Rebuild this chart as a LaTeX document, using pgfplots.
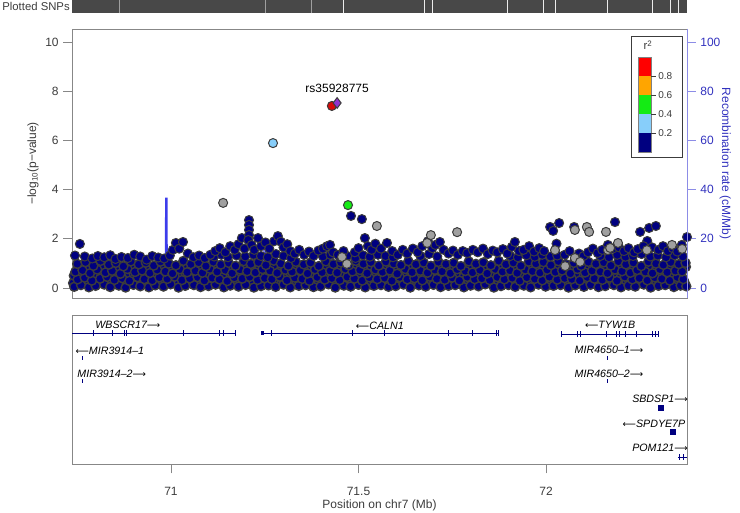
\documentclass[border=0pt]{standalone}
\usepackage{fontspec}
\setmainfont{Liberation Sans}
\newfontfamily\arrowfont{DejaVu Sans}
\usepackage{pgfplots}
\pgfplotsset{compat=1.18}

\definecolor{navyp}{RGB}{0,0,128}
\definecolor{edge}{RGB}{60,60,60}
\definecolor{grayp}{RGB}{160,160,160}
\definecolor{ltblue}{RGB}{135,206,250}
\definecolor{greenp}{RGB}{20,235,20}
\definecolor{orangep}{RGB}{255,165,0}
\definecolor{redp}{RGB}{215,10,10}
\definecolor{purp}{RGB}{145,50,205}
\definecolor{recline}{RGB}{60,60,235}
\definecolor{recaxis}{RGB}{140,140,230}
\definecolor{rectext}{RGB}{50,50,190}
\definecolor{axgray}{RGB}{135,135,135}
\definecolor{txtgray}{RGB}{60,60,60}
\definecolor{snpbar}{RGB}{72,72,72}

\newcommand{\mainfont}{\fontsize{9}{10.5}\selectfont}
\newcommand{\genefont}{\fontsize{8}{9}\selectfont\itshape}
\newcommand{\ra}{{\arrowfont\upshape\fontsize{7}{8}\selectfont ⟶}}
\newcommand{\la}{{\arrowfont\upshape\fontsize{7}{8}\selectfont ⟵}}
\pgfplotsset{snp/.style 2 args={only marks, mark=*, mark size=3.4pt,
    mark options={fill=#1, draw=edge, line width=#2}}}

\begin{document}
\begin{tikzpicture}
\path[use as bounding box] (0pt,0pt) rectangle (555pt,-384.75pt);

% --- rug of plotted SNPs
\node[anchor=east, font=\fontsize{8.5}{10}\selectfont, text=txtgray, inner sep=0pt] at (52.5pt,-5pt) {Plotted SNPs};
\begin{axis}[
    at={(54pt,-10pt)}, anchor=south west,
    scale only axis, width=461.25pt, height=10pt,
    xmin=70.736, xmax=72.376, ymin=0, ymax=1,
    axis lines=none, ticks=none,
]
\addplot[fill=snpbar, draw=none] coordinates {(70.736,1) (72.376,1)} \closedcycle;
\addplot[ycomb, draw=gray!75, line width=0.4pt, mark=none] coordinates {
    (70.863,1) (71.252,1) (71.373,1)
};
\addplot[ycomb, draw=white!85!gray, line width=0.6pt, mark=none] coordinates {
    (71.461,1) (71.677,1) (71.696,1) (71.896,1) (71.992,1) (72.024,1)
    (72.165,1) (72.285,1) (72.331,1) (72.352,1)
};
\end{axis}

% --- recombination rate (drawn first, under the points)
\begin{axis}[
    at={(54pt,-223.5pt)}, anchor=south west,
    scale only axis, width=461.25pt, height=201.75pt,
    xmin=70.736, xmax=72.376, ymin=-4.065, ymax=105.28,
    axis x line=none, axis y line*=right,
    y axis line style={draw=recaxis, line width=0.6pt},
    ytick={0,20,40,60,80,100}, yticklabels={0,20,40,60,80,100},
    tick align=outside, major tick length=6.5pt,
    ytick style={draw=recaxis, line width=0.6pt},
    yticklabel style={text=rectext, font=\mainfont},
    ylabel={Recombination rate (cM/Mb)},
    every axis y label/.style={at={(axis description cs:1.062,0.5)}, anchor=center,
        rotate=-90, font=\mainfont, text=rectext},
]
\addplot[recline, line width=1pt, mark=none] coordinates {
    (70.736,16) (70.739,9) (70.743,3) (70.755,1.6) (70.790,1.1) (70.830,1.4)
    (70.870,0.9) (70.910,1.2) (70.950,0.8) (70.980,1.3) (70.985,2) (70.986,36.5)
    (70.989,36.5) (70.990,2.5) (70.995,1.2) (71.040,1.0) (71.090,1.3) (71.140,0.9)
    (71.190,1.2) (71.245,1.8) (71.249,18.7) (71.252,18.7) (71.255,2) (71.300,1.1)
    (71.350,1.4) (71.356,8.5) (71.359,8.5) (71.362,1.3) (71.400,1.0) (71.426,1.2)
    (71.429,14) (71.432,14) (71.435,1.1) (71.480,0.9) (71.540,1.3) (71.600,1.0)
    (71.660,1.2) (71.720,0.9) (71.780,1.3) (71.840,1.0) (71.900,1.2) (71.960,0.9)
    (72.020,1.4) (72.080,1.0) (72.140,1.2) (72.200,0.9) (72.260,1.3) (72.320,1.0)
    (72.376,1.2)
};
\end{axis}

% --- association p-values
\begin{axis}[
    at={(54pt,-223.5pt)}, anchor=south west,
    scale only axis, width=461.25pt, height=201.75pt,
    xmin=70.736, xmax=72.376, ymin=-0.4065, ymax=10.528,
    axis line style={draw=axgray, line width=0.6pt},
    xtick=\empty,
    ytick={0,2,4,6,8,10}, yticklabels={0,2,4,6,8,10}, ytick pos=left,
    tick align=outside, major tick length=6.5pt,
    ytick style={draw=axgray, line width=0.6pt},
    yticklabel style={text=txtgray, font=\mainfont},
    ylabel={−log\textsubscript{10}(p−value)},
    every axis y label/.style={at={(axis description cs:-0.0634,0.5)}, anchor=center,
        rotate=90, font=\mainfont, text=txtgray},
]
% r2 < 0.2 : the dense body near zero (heavily overplotted)
\addplot[snp={navyp}{1.05pt}] coordinates {
    (70.739,0.20) (70.757,0.25) (70.778,0.18) (70.796,0.23) (70.817,0.27) (70.836,0.19)
    (70.856,0.24) (70.875,0.21) (70.895,0.26) (70.914,0.18) (70.935,0.22) (70.954,0.25)
    (70.975,0.19) (70.994,0.24) (71.015,0.21) (71.034,0.27) (71.055,0.18) (71.074,0.23)
    (71.095,0.26) (71.114,0.20) (71.135,0.24) (71.154,0.19) (71.175,0.25) (71.194,0.22)
    (71.215,0.18) (71.234,0.26) (71.255,0.21) (71.274,0.24) (71.295,0.19) (71.314,0.25)
    (71.335,0.22) (71.354,0.18) (71.375,0.26) (71.394,0.21) (71.415,0.24) (71.434,0.19)
    (71.455,0.25) (71.474,0.22) (71.495,0.18) (71.514,0.26) (71.535,0.21) (71.554,0.24)
    (71.575,0.19) (71.594,0.25) (71.615,0.22) (71.634,0.18) (71.655,0.26) (71.674,0.21)
    (71.695,0.24) (71.714,0.19) (71.735,0.25) (71.754,0.22) (71.775,0.18) (71.794,0.26)
    (71.815,0.21) (71.834,0.24) (71.855,0.19) (71.874,0.25) (71.895,0.22) (71.914,0.18)
    (71.935,0.26) (71.954,0.21) (71.975,0.24) (71.994,0.19) (72.015,0.25) (72.034,0.22)
    (72.055,0.18) (72.074,0.26) (72.095,0.21) (72.114,0.24) (72.135,0.19) (72.154,0.25)
    (72.175,0.22) (72.194,0.18) (72.215,0.26) (72.234,0.21) (72.255,0.24) (72.274,0.19)
    (72.295,0.25) (72.314,0.22) (72.335,0.18) (72.354,0.26) (72.370,0.21)
    (70.741,0.50) (70.760,0.55) (70.781,0.48) (70.800,0.53) (70.821,0.57) (70.840,0.49)
    (70.861,0.54) (70.880,0.51) (70.901,0.56) (70.920,0.48) (70.941,0.52) (70.960,0.55)
    (70.981,0.49) (71.000,0.54) (71.021,0.51) (71.040,0.57) (71.061,0.48) (71.080,0.53)
    (71.101,0.56) (71.120,0.50) (71.141,0.54) (71.160,0.49) (71.181,0.55) (71.200,0.52)
    (71.221,0.48) (71.240,0.56) (71.261,0.51) (71.280,0.54) (71.301,0.49) (71.320,0.55)
    (71.341,0.52) (71.360,0.48) (71.381,0.56) (71.400,0.51) (71.421,0.54) (71.440,0.49)
    (71.461,0.55) (71.480,0.52) (71.501,0.48) (71.520,0.56) (71.541,0.51) (71.560,0.54)
    (71.581,0.49) (71.600,0.55) (71.621,0.52) (71.640,0.48) (71.661,0.56) (71.680,0.51)
    (71.701,0.54) (71.720,0.49) (71.741,0.55) (71.760,0.52) (71.781,0.48) (71.800,0.56)
    (71.821,0.51) (71.840,0.54) (71.861,0.49) (71.880,0.55) (71.901,0.52) (71.920,0.48)
    (71.941,0.56) (71.960,0.51) (71.981,0.54) (72.000,0.49) (72.021,0.55) (72.040,0.52)
    (72.061,0.48) (72.080,0.56) (72.101,0.51) (72.120,0.54) (72.141,0.49) (72.160,0.55)
    (72.181,0.52) (72.200,0.48) (72.221,0.56) (72.240,0.51) (72.261,0.54) (72.280,0.49)
    (72.301,0.55) (72.320,0.52) (72.341,0.48) (72.360,0.56)
    (70.755,0.84) (70.775,0.88) (70.795,0.81) (70.815,0.86) (70.835,0.90) (70.855,0.82)
    (70.875,0.87) (70.895,0.80) (70.915,0.85) (70.935,0.89) (70.955,0.83) (70.975,0.86)
    (70.995,0.81) (71.015,0.88) (71.035,0.84) (71.055,0.80) (71.075,0.87) (71.095,0.82)
    (71.115,0.89) (71.135,0.85) (71.155,0.81) (71.175,0.86) (71.195,0.83) (71.215,0.88)
    (71.235,0.80) (71.255,0.85) (71.275,0.89) (71.295,0.82) (71.315,0.87) (71.335,0.84)
    (71.355,0.80) (71.375,0.86) (71.395,0.83) (71.415,0.88) (71.435,0.81) (71.455,0.85)
    (71.475,0.89) (71.495,0.82) (71.515,0.87) (71.535,0.84) (71.555,0.80) (71.575,0.86)
    (71.595,0.83) (71.615,0.88) (71.635,0.81) (71.655,0.85) (71.675,0.89) (71.695,0.82)
    (71.715,0.87) (71.735,0.84) (71.755,0.80) (71.775,0.86) (71.795,0.83) (71.815,0.88)
    (71.835,0.81) (71.855,0.85) (71.875,0.89) (71.895,0.82) (71.915,0.87) (71.935,0.84)
    (71.955,0.80) (71.975,0.86) (71.995,0.83) (72.015,0.88) (72.035,0.81) (72.055,0.85)
    (72.075,0.89) (72.095,0.82) (72.115,0.87) (72.135,0.84) (72.155,0.80) (72.175,0.86)
    (72.195,0.83) (72.215,0.88) (72.235,0.81) (72.255,0.85) (72.275,0.89) (72.295,0.82)
    (72.315,0.87) (72.335,0.84) (72.355,0.80) (72.373,0.86)
    (70.742,0.05) (70.760,0.12) (70.781,0.03) (70.799,0.09) (70.822,0.14) (70.838,0.04)
    (70.861,0.10) (70.879,0.02) (70.900,0.13) (70.918,0.07) (70.941,0.03) (70.958,0.11)
    (70.980,0.06) (70.999,0.15) (71.020,0.02) (71.038,0.09) (71.061,0.12) (71.079,0.04)
    (71.100,0.08) (71.119,0.14) (71.141,0.03) (71.158,0.10) (71.180,0.06) (71.199,0.13)
    (71.221,0.02) (71.240,0.08) (71.260,0.11) (71.279,0.05) (71.300,0.14) (71.318,0.03)
    (71.341,0.09) (71.359,0.12) (71.380,0.04) (71.399,0.07) (71.420,0.15) (71.438,0.02)
    (71.461,0.10) (71.479,0.06) (71.500,0.13) (71.518,0.03) (71.541,0.09) (71.560,0.12)
    (71.580,0.05) (71.599,0.08) (71.620,0.14) (71.638,0.02) (71.661,0.11) (71.679,0.06)
    (71.700,0.13) (71.719,0.04) (71.740,0.09) (71.758,0.12) (71.781,0.03) (71.799,0.10)
    (71.820,0.07) (71.838,0.15) (71.861,0.02) (71.880,0.08) (71.900,0.12) (71.918,0.05)
    (71.941,0.10) (71.959,0.03) (71.980,0.14) (71.999,0.06) (72.020,0.09) (72.039,0.12)
    (72.060,0.02) (72.078,0.11) (72.101,0.05) (72.119,0.13) (72.140,0.04) (72.158,0.08)
    (72.181,0.12) (72.200,0.03) (72.220,0.10) (72.238,0.06) (72.261,0.14) (72.279,0.02)
    (72.300,0.09) (72.318,0.12) (72.341,0.04) (72.359,0.10) (72.374,0.07)
    (70.751,0.35) (70.770,0.42) (70.789,0.30) (70.811,0.38) (70.830,0.45) (70.849,0.33)
    (70.870,0.40) (70.889,0.29) (70.911,0.44) (70.929,0.36) (70.950,0.31) (70.969,0.43)
    (70.990,0.37) (71.010,0.46) (71.029,0.32) (71.050,0.39) (71.071,0.44) (71.089,0.30)
    (71.110,0.41) (71.129,0.35) (71.150,0.28) (71.169,0.43) (71.190,0.38) (71.210,0.45)
    (71.231,0.33) (71.250,0.40) (71.269,0.36) (71.290,0.46) (71.309,0.31) (71.330,0.42)
    (71.350,0.37) (71.369,0.29) (71.390,0.44) (71.410,0.34) (71.429,0.40) (71.450,0.32)
    (71.470,0.45) (71.489,0.38) (71.510,0.30) (71.529,0.43) (71.550,0.36) (71.570,0.41)
    (71.589,0.29) (71.610,0.44) (71.630,0.35) (71.649,0.40) (71.670,0.31) (71.690,0.46)
    (71.709,0.37) (71.730,0.33) (71.750,0.42) (71.769,0.30) (71.790,0.45) (71.810,0.36)
    (71.829,0.39) (71.850,0.32) (71.870,0.44) (71.889,0.35) (71.910,0.41) (71.930,0.29)
    (71.949,0.43) (71.970,0.37) (71.990,0.31) (72.009,0.45) (72.030,0.34) (72.050,0.40)
    (72.069,0.36) (72.090,0.30) (72.110,0.44) (72.129,0.38) (72.150,0.33) (72.170,0.42)
    (72.189,0.29) (72.210,0.46) (72.230,0.35) (72.249,0.40) (72.270,0.31) (72.290,0.43)
    (72.309,0.37) (72.330,0.30) (72.350,0.44) (72.366,0.36)
    (70.745,0.66) (70.764,0.72) (70.784,0.60) (70.803,0.75) (70.825,0.63) (70.843,0.70)
    (70.865,0.58) (70.884,0.77) (70.904,0.65) (70.923,0.71) (70.944,0.61) (70.963,0.74)
    (70.985,0.67) (71.004,0.59) (71.024,0.76) (71.043,0.64) (71.065,0.70) (71.084,0.62)
    (71.104,0.78) (71.123,0.66) (71.145,0.73) (71.163,0.60) (71.184,0.75) (71.203,0.68)
    (71.225,0.63) (71.244,0.77) (71.264,0.70) (71.283,0.61) (71.305,0.74) (71.323,0.66)
    (71.345,0.72) (71.364,0.59) (71.384,0.76) (71.403,0.64) (71.425,0.70) (71.443,0.62)
    (71.465,0.78) (71.484,0.67) (71.504,0.73) (71.523,0.60) (71.545,0.75) (71.564,0.65)
    (71.584,0.71) (71.603,0.58) (71.625,0.77) (71.643,0.64) (71.665,0.70) (71.684,0.62)
    (71.704,0.74) (71.723,0.67) (71.745,0.60) (71.763,0.76) (71.785,0.69) (71.804,0.63)
    (71.824,0.73) (71.843,0.59) (71.865,0.77) (71.884,0.66) (71.904,0.71) (71.923,0.61)
    (71.945,0.75) (71.964,0.68) (71.984,0.62) (72.003,0.74) (72.025,0.65) (72.043,0.71)
    (72.065,0.59) (72.084,0.77) (72.104,0.63) (72.123,0.70) (72.145,0.66) (72.164,0.60)
    (72.184,0.75) (72.203,0.68) (72.225,0.62) (72.243,0.73) (72.265,0.66) (72.284,0.60)
    (72.304,0.76) (72.323,0.64) (72.345,0.70) (72.363,0.67)
    (70.750,0.98) (70.772,1.05) (70.793,0.90) (70.812,1.10) (70.834,0.95) (70.853,1.02)
    (70.873,0.88) (70.893,1.08) (70.914,0.96) (70.933,1.03) (70.954,0.91) (70.972,1.07)
    (70.994,0.99) (71.013,0.92) (71.033,1.10) (71.053,0.97) (71.074,1.04) (71.093,0.89)
    (71.113,1.06) (71.133,0.95) (71.154,1.02) (71.172,0.90) (71.194,1.09) (71.213,0.98)
    (71.233,1.05) (71.253,0.93) (71.274,1.11) (71.293,0.99) (71.313,0.90) (71.333,1.06)
    (71.354,0.96) (71.372,1.03) (71.394,0.89) (71.413,1.08) (71.433,0.97) (71.453,1.04)
    (71.474,0.92) (71.493,1.10) (71.513,0.98) (71.533,1.05) (71.554,0.91) (71.573,1.07)
    (71.594,0.99) (71.613,0.93) (71.633,1.09) (71.653,0.96) (71.674,1.03) (71.693,0.90)
    (71.713,1.06) (71.733,0.97) (71.754,1.02) (71.773,0.89) (71.794,1.08) (71.813,0.98)
    (71.833,1.04) (71.853,0.92) (71.874,1.10) (71.893,0.96) (71.913,1.03) (71.933,0.90)
    (71.954,1.07) (71.973,0.99) (71.993,1.05) (72.013,0.93) (72.033,1.09) (72.053,0.97)
    (72.074,1.02) (72.094,0.90) (72.113,1.06) (72.133,0.98) (72.154,1.04) (72.173,0.91)
    (72.193,1.08) (72.213,0.96) (72.233,1.03) (72.254,0.89) (72.273,1.07) (72.293,0.99)
    (72.313,0.94) (72.333,1.05) (72.354,0.97) (72.372,1.02)
};
% r2 < 0.2 : upper envelope
\addplot[snp={navyp}{0.75pt}] coordinates {
    (71.115,1.28) (71.135,1.35) (71.152,1.25) (71.175,1.32) (71.198,1.28) (71.220,1.35)
    (71.240,1.30) (71.258,1.25) (71.280,1.38) (71.300,1.30) (71.320,1.22) (71.405,1.28)
    (71.425,1.35) (71.450,1.25) (71.470,1.30) (71.492,1.22) (71.512,1.33) (71.530,1.27)
    (71.552,1.35) (71.572,1.30) (71.592,1.25) (71.665,1.30) (71.688,1.38) (71.710,1.28)
    (71.905,1.30) (71.925,1.25) (71.948,1.33) (71.970,1.27) (71.990,1.35) (72.012,1.28)
    (72.030,1.32) (72.145,1.30) (72.168,1.25) (72.190,1.35) (72.212,1.27) (72.232,1.30)
    (72.255,1.38) (72.278,1.28) (72.298,1.32) (72.320,1.25) (72.343,1.33) (72.365,1.28)
    (70.744,1.32) (70.757,1.79) (70.770,1.28) (70.790,1.20) (70.805,1.30) (70.822,1.25)
    (70.838,1.33) (70.852,1.18) (70.868,1.26) (70.885,1.22) (70.902,1.35) (70.918,1.28)
    (70.935,1.15) (70.950,1.30) (70.966,1.24) (70.982,1.20) (70.997,1.32)
    (71.005,1.55) (71.013,1.83) (71.022,1.60) (71.032,1.87) (71.045,1.40)
    (71.060,1.25) (71.075,1.32) (71.090,1.22) (71.105,1.35)
    (71.118,1.50) (71.130,1.62) (71.145,1.45) (71.158,1.70) (71.170,1.55) (71.180,1.78)
    (71.189,2.03) (71.196,1.60)
    (71.208,2.76) (71.208,2.56) (71.208,2.36) (71.208,2.15) (71.206,1.95) (71.215,1.75)
    (71.222,1.55)
    (71.232,2.03) (71.240,1.70) (71.252,1.85) (71.262,1.60) (71.275,1.90) (71.285,2.11)
    (71.293,1.88) (71.300,1.65) (71.310,1.78) (71.318,1.50)
    (71.330,1.40) (71.342,1.55) (71.355,1.35) (71.368,1.48) (71.380,1.30) (71.393,1.52)
    (71.405,1.60) (71.416,1.70) (71.424,1.75) (71.432,1.45) (71.445,1.35)
    (71.480,2.93) (71.509,2.80) (71.517,2.03) (71.460,1.50) (71.490,1.45) (71.500,1.62)
    (71.525,1.70) (71.535,1.55) (71.545,1.80)
    (71.560,1.60) (71.576,1.83) (71.590,1.50)
    (71.605,1.35) (71.618,1.55) (71.630,1.40) (71.645,1.60) (71.658,1.45) (71.670,1.70)
    (71.685,1.90) (71.697,1.62) (71.705,1.75) (71.717,1.87) (71.727,1.55)
    (71.740,1.40) (71.752,1.52) (71.765,1.35) (71.778,1.50) (71.790,1.42)
    (71.805,1.55) (71.818,1.45) (71.832,1.60) (71.845,1.38) (71.858,1.52) (71.870,1.45)
    (71.885,1.58) (71.897,1.40) (71.909,1.67) (71.917,1.87) (71.928,1.50)
    (71.940,1.55) (71.955,1.70) (71.968,1.48) (71.982,1.62) (71.995,1.50)
    (72.011,2.48) (72.019,2.32) (72.035,2.64) (72.028,1.80)
    (72.050,1.35) (72.063,1.50) (72.075,2.48) (72.088,1.40) (72.100,1.30) (72.112,1.45)
    (72.125,1.60) (72.138,1.42)
    (72.150,1.55) (72.165,1.75) (72.178,1.60) (72.184,2.68) (72.195,1.65)
    (72.208,1.50) (72.220,1.62) (72.235,1.45) (72.245,1.58)
    (72.251,2.28) (72.275,2.44) (72.293,2.52) (72.270,1.91) (72.260,1.70) (72.283,1.65)
    (72.300,1.55) (72.312,1.70) (72.325,1.50) (72.338,1.62) (72.350,1.48) (72.362,1.75)
    (72.376,2.07)
};
% no LD information
\addplot[snp={grayp}{0.75pt}] coordinates {
    (71.139,3.46) (71.549,2.52) (71.693,2.15) (71.763,2.27) (72.077,2.36) (72.109,2.48)
    (72.115,2.28) (72.160,2.28) (72.363,1.59) (71.456,1.26) (71.469,0.98) (72.077,1.22)
    (72.091,1.06) (72.051,0.89) (72.165,1.54) (72.171,1.63) (72.192,1.83) (72.269,1.54)
    (72.336,1.75) (72.024,1.54) (71.683,1.83)
};
% 0.2 - 0.4
\addplot[snp={ltblue}{0.75pt}] coordinates {(71.272,5.89)};
% 0.4 - 0.6
\addplot[snp={greenp}{0.75pt}] coordinates {(71.472,3.37)};
% 0.8 - 1
\addplot[snp={redp}{0.75pt}] coordinates {(71.429,7.40)};
% index SNP
\addplot[only marks, mark=diamond*, mark size=4pt,
    mark options={fill=purp, draw=edge, line width=0.75pt}] coordinates {(71.443,7.52)};
\node[font=\mainfont, text=black] at (axis cs:71.443,8.1) {rs35928775};
\end{axis}
% blue right spine over the grey box
\draw[recaxis, line width=0.6pt] (515.25pt,-21.75pt) -- (515.25pt,-223.5pt);

% r2 colour key
\draw[edge, fill=white, line width=0.6pt] (473.25pt,-27pt) rectangle (511.5pt,-117.75pt);
\fill[red] (478.5pt,-42.75pt) rectangle (488.25pt,-57pt);
\fill[orangep] (478.5pt,-57pt) rectangle (488.25pt,-71.25pt);
\fill[greenp] (478.5pt,-71.25pt) rectangle (488.25pt,-85.5pt);
\fill[ltblue] (478.5pt,-85.5pt) rectangle (488.25pt,-99.75pt);
\fill[navyp] (478.5pt,-99.75pt) rectangle (488.25pt,-114pt);
\draw[gray, line width=0.4pt] (478.5pt,-42.75pt) rectangle (488.25pt,-114pt);
\foreach \yy/\lab in {-57/0.8, -71.25/0.6, -85.5/0.4, -99.75/0.2} {
    \draw[edge, line width=0.5pt] (488.25pt,\yy pt) -- (492pt,\yy pt);
    \node[anchor=west, inner sep=0pt, font=\fontsize{7.5}{8}\selectfont, text=txtgray] at (493.5pt,\yy pt) {\lab};
}
\node[font=\fontsize{8.5}{9}\selectfont, text=txtgray] at (486pt,-34pt) {r\textsuperscript{2}};

% --- genes
\begin{axis}[
    at={(54pt,-348pt)}, anchor=south west,
    scale only axis, width=461.25pt, height=111.75pt,
    xmin=70.736, xmax=72.376, ymin=-464, ymax=-315,
    axis line style={draw=axgray, line width=0.6pt},
    ytick=\empty,
    xtick={71,71.5,72}, xticklabels={71,71.5,72}, xtick pos=bottom,
    tick align=outside, major tick length=7pt,
    xtick style={draw=axgray, line width=0.6pt},
    xticklabel style={text=txtgray, font=\mainfont, yshift=-7pt},
    xlabel={Position on chr7 (Mb)},
    every axis x label/.style={at={(axis description cs:0.5,-0.28)}, anchor=center,
        font=\mainfont, text=txtgray},
    clip=false,
]
% gene bodies
\addplot[navyp, line width=0.6pt, mark=none] coordinates {(70.736,-333) (71.173,-333)};
\addplot[navyp, line width=0.6pt, mark=none] coordinates {(71.240,-333) (71.872,-333)};
\addplot[navyp, line width=0.6pt, mark=none] coordinates {(72.040,-334) (72.301,-334)};
\addplot[navyp, line width=0.6pt, mark=none] coordinates {(72.352,-457) (72.376,-457)};
\addplot[navyp, line width=3.5pt, mark=none] coordinates {(71.240,-333) (71.248,-333)};
% exons
\addplot[only marks, mark=|, mark size=1.9pt, mark options={draw=navyp, line width=0.6pt}] coordinates {
    (70.792,-333) (70.845,-333) (70.875,-333) (70.880,-333) (71.032,-333) (71.128,-333)
    (71.139,-333) (71.173,-333)
    (71.269,-333) (71.485,-333) (71.568,-333) (71.741,-333) (71.803,-333) (71.867,-333)
    (71.872,-333)
    (72.040,-334) (72.083,-334) (72.091,-334) (72.160,-334) (72.187,-334) (72.197,-334)
    (72.211,-334) (72.240,-334) (72.283,-334) (72.291,-334) (72.299,-334)
    (72.355,-457) (72.366,-457)
};
\addplot[only marks, mark=|, mark size=1.2pt, mark options={draw=navyp, line width=0.6pt}] coordinates {
    (70.765,-358) (70.765,-381) (72.163,-358) (72.163,-381)
};
\addplot[only marks, mark=square*, mark size=1.8pt, mark options={fill=navyp, draw=navyp}] coordinates {
    (72.307,-408) (72.339,-432)
};
% gene names
\node[font=\genefont] at (axis cs:70.885,-325) {WBSCR17\ra};
\node[font=\genefont] at (axis cs:71.557,-326) {\la CALN1};
\node[font=\genefont] at (axis cs:70.837,-351) {\la MIR3914–1};
\node[font=\genefont] at (axis cs:70.842,-374) {MIR3914–2\ra};
\node[font=\genefont] at (axis cs:72.171,-325) {\la TYW1B};
\node[font=\genefont] at (axis cs:72.168,-350) {MIR4650–1\ra};
\node[font=\genefont] at (axis cs:72.168,-374) {MIR4650–2\ra};
\node[font=\genefont] at (axis cs:72.304,-399) {SBDSP1\ra};
\node[font=\genefont] at (axis cs:72.288,-424) {\la SPDYE7P};
\node[font=\genefont] at (axis cs:72.304,-448) {POM121\ra};
\end{axis}
\end{tikzpicture}
\end{document}
